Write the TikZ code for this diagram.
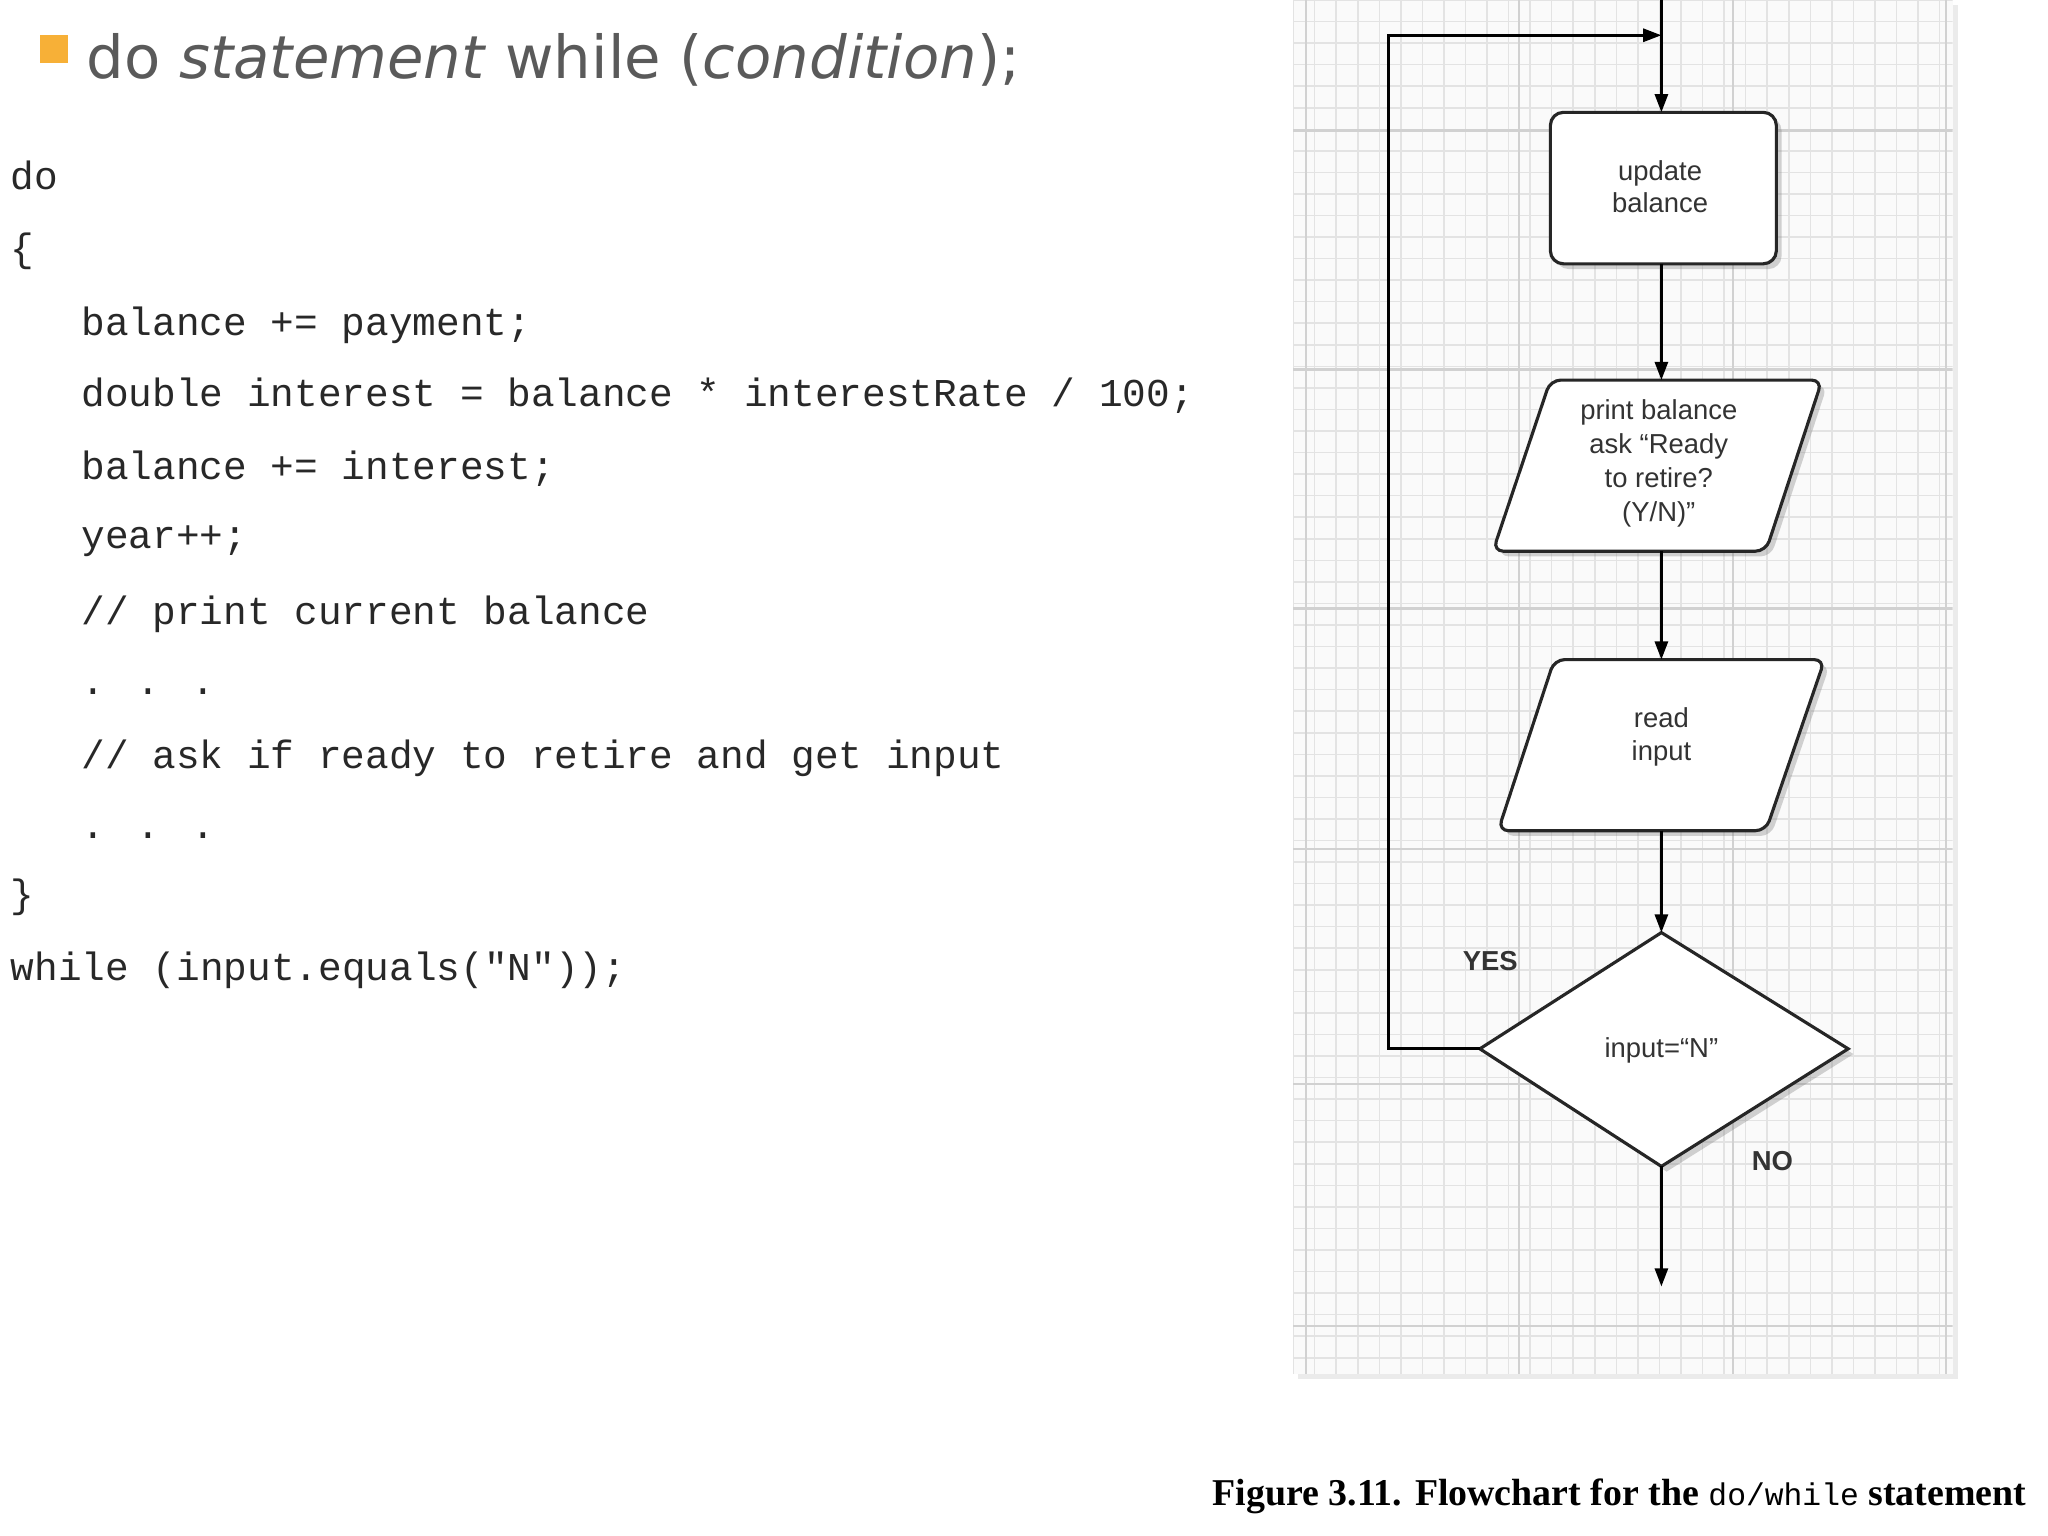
\documentclass[tikz,border=0pt]{standalone}
\usepackage{fontspec}
\setmainfont{Liberation Serif}
\newfontfamily\sansf{DejaVu Sans}
\newfontfamily\fcsans{Liberation Sans}
\newfontfamily\monof{Liberation Mono}
\usetikzlibrary{arrows.meta,shadows}
\definecolor{titlegray}{RGB}{90,90,90}
\definecolor{bulletor}{RGB}{247,176,55}
\definecolor{codegray}{RGB}{40,40,40}
\tikzset{
  box/.style={draw=black!85,line width=1.2pt,fill=white,drop shadow={shadow xshift=2pt,shadow yshift=-2pt,opacity=0.35}},
  conn/.style={draw=black,line width=1.1pt,-{Triangle[length=7pt,width=5pt]}},
  code/.style={anchor=base west,inner sep=0pt,font=\monof\fontsize{15.1}{18}\selectfont,text=codegray},
  fc/.style={align=center,font=\fcsans\fontsize{10.5}{12.5}\selectfont,text=black!80},
  lab/.style={font=\fcsans\bfseries\fontsize{10.5}{12}\selectfont,text=black!80}
}
\begin{document}
\begin{tikzpicture}[x=0.5pt,y=-0.5pt]
\useasboundingbox (0,0) rectangle (1568,1176);
% title
\fill[bulletor] (31,27) rectangle (52,48);
\node[anchor=base west,inner sep=0pt,font=\sansf\fontsize{22.7}{26}\selectfont,text=titlegray] (title) at (66,60) {do \textit{statement} while (\textit{condition});};
% code
\node[code] (c1) at (8,145) {do};
\node[code] (c2) at (8,200) {\{};
\node[code] (c3) at (62,257) {balance += payment;};
\node[code] (c4) at (62,311) {double interest = balance * interestRate / 100;};
\node[code] (c5) at (62,367) {balance += interest;};
\node[code] (c6) at (62,420) {year++;};
\node[code] (c7) at (62,478) {// print current balance};
\node[code] (c8) at (62,532) {. . .};
\node[code] (c9) at (62,588) {// ask if ready to retire and get input};
\node[code] (c10) at (62,642) {. . .};
\node[code] (c11) at (8,695) {\}};
\node[code] (c12) at (8,751) {while (input.equals("N"));};
% panel
\fill[black!8] (994,4) rectangle (1499,1056);
\fill[black!2] (990,0) rectangle (1495,1052);
\begin{scope}
\clip (990,0) rectangle (1495,1052);
\foreach \i in {0,...,32} {\draw[black!11,line width=0.6pt] (990+16.5*\i,0) -- (990+16.5*\i,1052);}
\foreach \i in {0,...,64} {\draw[black!11,line width=0.6pt] (990,16.5*\i) -- (1495,16.5*\i);}
\foreach \x in {1000,1163,1327,1490} {\draw[black!18,line width=0.9pt] (\x,0) -- (\x,1052);}
\foreach \y in {100,283,466,650,830,1015} {\draw[black!18,line width=0.9pt] (990,\y) -- (1495,\y);}
\end{scope}
% shapes
\draw[box,rounded corners=5pt] (1187,86) rectangle (1360,202);
\node[fc] (upd) at (1271,143) {update\\balance};
\draw[box,rounded corners=4pt] (1187,291) -- (1395,291) -- (1352,422) -- (1143,422) -- cycle;
\node[fc,font=\fcsans\fontsize{10.5}{13}\selectfont] (prt) at (1270,355) {print balance\\ask “Ready\\to retire?\\(Y/N)”};
\draw[box,rounded corners=4pt] (1190,505) -- (1397,505) -- (1352,636) -- (1147,636) -- cycle;
\node[fc] (rd) at (1272,564) {read\\input};
\draw[box] (1272,714) -- (1415,803) -- (1272,893) -- (1133,803) -- cycle;
\node[fc] (cond) at (1272,804) {input=“N”};
% connector coordinates
\coordinate (top) at (1272,0);
\coordinate (updT) at (1272,86);
\coordinate (updB) at (1272,202);
\coordinate (prtT) at (1272,291);
\coordinate (prtB) at (1272,422);
\coordinate (rdT) at (1272,505);
\coordinate (rdB) at (1272,636);
\coordinate (dT) at (1272,714);
\coordinate (dB) at (1272,893);
\coordinate (dL) at (1133,803);
\coordinate (exit) at (1272,985);
\coordinate (loopA) at (1063,803);
\coordinate (loopB) at (1063,27);
\coordinate (loopC) at (1272,27);
\draw[conn] (top) -- (updT);
\draw[conn] (updB) -- (prtT);
\draw[conn] (prtB) -- (rdT);
\draw[conn] (rdB) -- (dT);
\draw[conn] (dB) -- (exit);
\draw[conn] (dL) -- (loopA) -- (loopB) -- (loopC);
\node[lab] (yes) at (1141,736) {YES};
\node[lab] (no) at (1357,889) {NO};
% caption
\node[anchor=base west,inner sep=0pt,font=\bfseries\fontsize{14.5}{16}\selectfont] (cap) at (928,1153) {Figure 3.11. Flowchart for the {\monof\mdseries\fontsize{12}{14}\selectfont do/while} statement};
\end{tikzpicture}
\end{document}
